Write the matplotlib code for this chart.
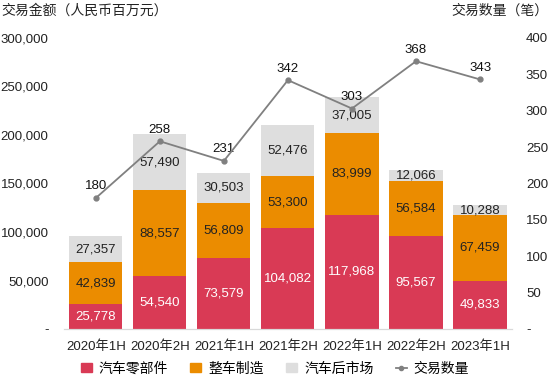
import matplotlib.pyplot as plt
from matplotlib.lines import Line2D
from matplotlib.patches import Patch
from matplotlib import ticker

plt.rcParams['font.family'] = ['Liberation Sans', 'Noto Sans CJK SC', 'DejaVu Sans']

# data
periods = ["2020年1H", "2020年2H", "2021年1H", "2021年2H", "2022年1H", "2022年2H", "2023年1H"]
parts = [25778, 54540, 73579, 104082, 117968, 95567, 49833]        # 汽车零部件
vehicles = [42839, 88557, 56809, 53300, 83999, 56584, 67459]       # 整车制造
aftermarket = [27357, 57490, 30503, 52476, 37005, 12066, 10288]    # 汽车后市场
deal_count = [180, 258, 231, 342, 303, 368, 343]                   # 交易数量

RED = "#D93A55"
ORANGE = "#EB8C00"
GREY = "#DEDEDE"
LINE = "#808080"

fig = plt.figure(figsize=(5.5, 3.78), dpi=100)
ax = fig.add_axes([0.116, 0.1296, 0.815, 0.77])
ax2 = ax.twinx()

x = list(range(len(periods)))
w = 0.83
ax.bar(x, parts, w, color=RED, zorder=2)
ax.bar(x, vehicles, w, bottom=parts, color=ORANGE, zorder=2)
bottom3 = [p + v for p, v in zip(parts, vehicles)]
ax.bar(x, aftermarket, w, bottom=bottom3, color=GREY, zorder=2)

fs = 9.5
for i in x:
    ax.text(i, parts[i] / 2, f"{parts[i]:,}", ha="center", va="center", color="white", fontsize=fs, zorder=3)
    ax.text(i, parts[i] + vehicles[i] / 2, f"{vehicles[i]:,}", ha="center", va="center", color="#222222", fontsize=fs, zorder=3)
    ax.text(i, bottom3[i] + aftermarket[i] / 2, f"{aftermarket[i]:,}", ha="center", va="center", color="#222222", fontsize=fs, zorder=3)

ax.set_xlim(-0.5, 6.5)
ax.set_ylim(0, 300000)
ax.yaxis.set_major_locator(ticker.MultipleLocator(50000))
ax.yaxis.set_major_formatter(ticker.FuncFormatter(lambda v, p: "-" if v == 0 else f"{int(v):,}"))
ax.set_xticks(x)
ax.set_xticklabels(periods, fontsize=fs)
ax.tick_params(axis="both", length=0, labelsize=fs, colors="#222222")
ax.tick_params(axis="y", pad=11)
ax.tick_params(axis="x", pad=8)

# line on the right axis
ax2.set_zorder(ax.get_zorder() + 1)
ax2.patch.set_visible(False)
ax2.plot(x, deal_count, color=LINE, lw=1.3, marker="o", ms=3.5, zorder=4)
for i in x:
    ax2.annotate(str(deal_count[i]), (i, deal_count[i]), xytext=(0, 4), textcoords="offset points",
                 ha="center", va="bottom", fontsize=fs, color="#111111")
ax2.set_ylim(0, 400)
ax2.yaxis.set_major_locator(ticker.MultipleLocator(50))
ax2.yaxis.set_major_formatter(ticker.FuncFormatter(lambda v, p: "-" if v == 0 else f"{int(v)}"))
ax2.tick_params(axis="y", length=0, labelsize=fs, colors="#222222", pad=10)

for a in (ax, ax2):
    for s in ("top", "left", "right"):
        a.spines[s].set_visible(False)
    a.spines["bottom"].set_color("#D9D9D9")

fig.text(0.002, 0.972, "交易金额（人民币百万元）", fontsize=10, ha="left", va="center", color="#222222")
fig.text(0.997, 0.972, "交易数量（笔）", fontsize=10, ha="right", va="center", color="#222222")

handles = [Patch(color=RED), Patch(color=ORANGE), Patch(color=GREY),
           Line2D([], [], color=LINE, marker="o", ms=3, lw=1.3)]
labels = ["汽车零部件", "整车制造", "汽车后市场", "交易数量"]
fig.legend(handles, labels, loc="center", bbox_to_anchor=(0.5, 0.025), ncol=4, frameon=False,
           fontsize=10, handlelength=0.8, handleheight=0.6, columnspacing=1.6, handletextpad=0.5)

fig.savefig("out.png", dpi=100)
